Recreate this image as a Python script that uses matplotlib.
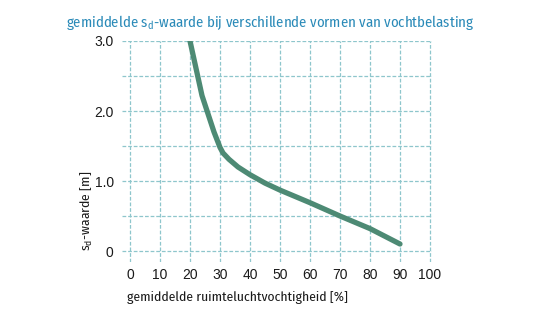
import matplotlib
matplotlib.use("Agg")
import matplotlib.pyplot as plt

# data
humidity = [20, 24, 28, 30, 31, 33, 36, 40, 45, 50, 60, 70, 80, 90]
sd_value = [3.0, 2.22, 1.7, 1.48, 1.40, 1.31, 1.2, 1.09, 0.97, 0.87, 0.69, 0.5, 0.32, 0.1]
x_ticks = [0, 10, 20, 30, 40, 50, 60, 70, 80, 90, 100]
y_ticks = [0, 0.5, 1.0, 1.5, 2.0, 2.5, 3.0]
y_labels = ['0', '', '1.0', '', '2.0', '', '3.0']

label_font = ['Fira Sans Condensed', 'DejaVu Sans']
plt.rcParams['font.family'] = ['Liberation Sans', 'DejaVu Sans']
plt.rcParams['mathtext.fontset'] = 'custom'
plt.rcParams['mathtext.rm'] = 'Fira Sans Condensed'

fig = plt.figure(figsize=(5.55, 3.12), dpi=100)
ax = fig.add_axes([122/555, 50/312, 310/555, 221/312])

ax.plot(humidity, sd_value, color='#4d8a74', lw=3.8, solid_capstyle='round', zorder=3)

ax.set_xlim(-2.67, 100.67)
ax.set_ylim(-0.157, 3.0)
ax.set_xticks(x_ticks)
ax.set_yticks(y_ticks)
ax.set_yticklabels(y_labels)
ax.tick_params(length=0, labelsize=10, colors='#1a1a1a')
ax.tick_params(axis='x', pad=4)
ax.tick_params(axis='y', pad=6)
for s in ax.spines.values():
    s.set_visible(False)
ax.grid(True, color='#8ec6cc', lw=0.9, linestyle=(0, (3, 1.5)))
ax.set_axisbelow(True)

fig.text(270/555, 1 - 22/312, r'gemiddelde s$_\mathregular{d}$-waarde bij verschillende vormen van vochtbelasting',
         ha='center', va='center', color='#2a8ab8', fontsize=10.6, family=label_font)
fig.text(127/555, 1 - 297/312, 'gemiddelde ruimteluchtvochtigheid [%]',
         ha='left', va='center', fontsize=9.8, color='#1a1a1a', family=label_font)
fig.text(87/555, 1 - 211/312, r's$_\mathregular{d}$-waarde [m]', rotation=90,
         ha='center', va='center', fontsize=9.8, color='#1a1a1a', family=label_font)

fig.savefig('out.png', dpi=100)
